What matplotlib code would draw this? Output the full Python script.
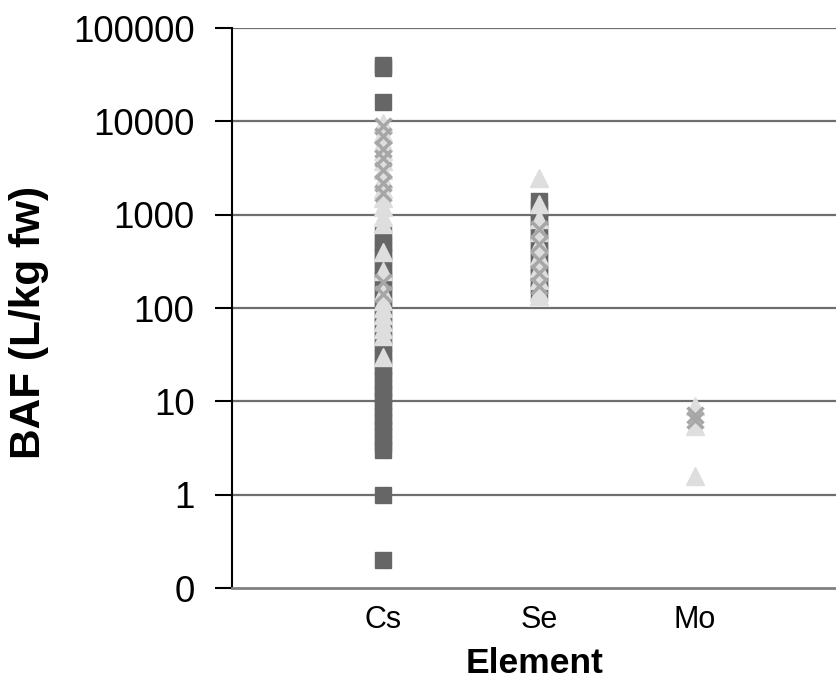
import matplotlib
matplotlib.use("Agg")
import matplotlib.pyplot as plt
from matplotlib.ticker import FixedLocator, FixedFormatter, NullLocator

plt.rcParams['font.family'] = ['Liberation Sans', 'DejaVu Sans']

categories = ["Cs", "Se", "Mo"]

# Series 1: dark squares
cs_squares = [40000, 37000, 16000, 600, 500, 420, 350, 290, 240, 200, 165, 135, 110, 90, 75,
              62, 50, 42, 35, 29, 24, 20, 17, 14, 12, 10, 8.5, 7, 6, 5, 4.2, 3.5, 3, 1, 0.2]
se_squares = [1400, 1150, 950, 800, 650, 540, 450, 370, 300, 250, 210, 175, 150]
mo_squares = []

# Series 2: light triangles
cs_triangles = [9500, 7500, 6000, 4800, 3800, 3000, 2400, 1900, 1500, 1200, 950, 800,
                400, 250, 150, 120, 100, 85, 70, 60, 50, 30]
se_triangles = [2500, 1300, 900, 650, 480, 360, 270, 200, 150, 135]
mo_triangles = [9, 5.5, 1.6]

# Series 3: gray crosses
cs_crosses = [9000, 7000, 5000, 4000, 3000, 2200, 1700, 190, 140]
se_crosses = [700, 480, 330, 240, 170]
mo_crosses = [7.2, 6.3]

ytick_values = [0.1, 1, 10, 100, 1000, 10000, 100000]
ytick_labels = ["0", "1", "10", "100", "1000", "10000", "100000"]

fig = plt.figure(figsize=(8.37, 6.81), dpi=100)
ax = fig.add_axes([232/837, 93/681, 1 - 232/837, (588-28)/681])

def xs(cat, vals):
    return [categories.index(cat) + 1] * len(vals)

series = [
    ((cs_squares, se_squares, mo_squares), dict(marker='s', ms=11.5, color='#666666', mec='#666666')),
    ((cs_triangles, se_triangles, mo_triangles), dict(marker='^', ms=12.5, color='#dedede', mec='#dedede')),
    ((cs_crosses, se_crosses, mo_crosses), dict(marker='x', ms=11, color='#a6a6a6', mew=2.5)),
]
for (cs, se, mo), style in series:
    for cat, vals in zip(categories, (cs, se, mo)):
        if vals:
            ax.plot(xs(cat, vals), vals, linestyle='none', zorder=3, clip_on=False, **style)

ax.set_yscale('log')
ax.set_ylim(0.1, 100000)
ax.set_xlim(0.032, 3.91)
ax.yaxis.set_major_locator(FixedLocator(ytick_values))
ax.yaxis.set_major_formatter(FixedFormatter(ytick_labels))
ax.yaxis.set_minor_locator(NullLocator())
ax.set_xticks([1, 2, 3])
ax.set_xticklabels(categories)

for v in ytick_values[1:]:
    ax.axhline(v, color='#6e6e6e', lw=1.6, zorder=1)

ax.spines['right'].set_visible(False)
ax.spines['top'].set_visible(False)
ax.spines['bottom'].set_color('#808080')
ax.spines['bottom'].set_linewidth(2)
ax.spines['left'].set_color('black')
ax.spines['left'].set_linewidth(1.5)

ax.tick_params(axis='y', which='major', length=12, width=1.5, direction='out',
               labelsize=26.5, pad=15, color='black')
ax.tick_params(axis='x', length=0, labelsize=22, pad=12)

ax.set_xlabel("Element", fontsize=25.5, fontweight='bold', labelpad=9)
ax.set_ylabel("BAF (L/kg fw)", fontsize=30.5, fontweight='bold')
ax.yaxis.set_label_coords(-0.302, 0.475)

fig.savefig("out.png", dpi=100)
